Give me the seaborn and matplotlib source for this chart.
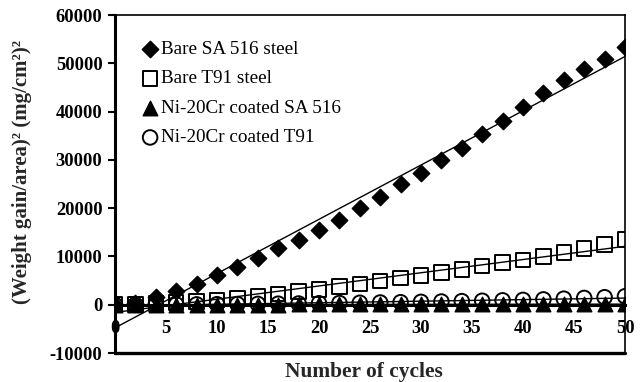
import numpy as np
import pandas as pd
import matplotlib
matplotlib.use("Agg")
import matplotlib.pyplot as plt
import seaborn as sns

cycles = list(range(0, 51, 2))
bare_sa516 = [0, 300, 1500, 2800, 4300, 6200, 7900, 9700, 11800, 13500, 15500, 17600,
              20000, 22400, 24900, 27300, 30000, 32500, 35300, 38000, 41000, 43900,
              46500, 48800, 50900, 53400]
bare_t91 = [0, 100, 250, 450, 700, 950, 1300, 1700, 2200, 2700, 3200, 3800, 4300,
            4900, 5500, 6100, 6700, 7300, 8000, 8700, 9300, 10000, 10800, 11600,
            12500, 13500]
coated_sa516 = [0, 5, 10, 15, 20, 25, 30, 35, 40, 45, 50, 55, 60, 65, 70, 75, 80,
                85, 90, 95, 100, 105, 110, 115, 120, 125]
coated_t91 = [0, 10, 25, 45, 70, 100, 130, 170, 210, 250, 300, 350, 400, 460, 520,
              590, 660, 740, 820, 910, 1000, 1100, 1250, 1400, 1550, 1750]

labels = ["Bare SA 516 steel", "Bare T91 steel", "Ni-20Cr coated SA 516", "Ni-20Cr coated T91"]
y_ticks = [-10000, 0, 10000, 20000, 30000, 40000, 50000, 60000]
x_ticks = [0, 5, 10, 15, 20, 25, 30, 35, 40, 45, 50]

sns.set_style("white")
plt.rcParams["font.family"] = ["Liberation Serif", "DejaVu Serif"]

fig = plt.figure(figsize=(6.43, 3.82), dpi=100)
ax = fig.add_axes([115 / 643, 1 - 353 / 382, 510 / 643, 338 / 382])

series = [bare_sa516, bare_t91, coated_sa516, coated_t91]
styles = [
    dict(marker="D", s=70, facecolor="black", edgecolor="black", linewidth=1.0),
    dict(marker="s", s=110, facecolor="none", edgecolor="black", linewidth=1.4),
    dict(marker="^", s=110, facecolor="black", edgecolor="black", linewidth=1.0),
    dict(marker="o", s=110, facecolor="none", edgecolor="black", linewidth=1.4),
]

for vals, lab, st in zip(series, labels, styles):
    df = pd.DataFrame({"cycles": cycles, "val": vals})
    sns.scatterplot(data=df, x="cycles", y="val", ax=ax, label=lab, zorder=3, **st)

for vals in series:
    df = pd.DataFrame({"cycles": cycles, "val": vals})
    sns.regplot(data=df, x="cycles", y="val", ax=ax, scatter=False, ci=None,
                color="black", line_kws=dict(linewidth=1.0, zorder=4))

ax.spines["bottom"].set_position(("data", 0))
ax.spines["bottom"].set_linewidth(2.2)
ax.spines["left"].set_linewidth(2.2)
ax.spines["top"].set_linewidth(1.2)
ax.spines["right"].set_linewidth(1.2)
for sp in ax.spines.values():
    sp.set_color("black")
    sp.set_visible(True)
ax.axhline(-10000, color="black", linewidth=2.4, clip_on=False, zorder=5)

ax.set_xlabel("")
ax.set_ylabel("")
ax.set_xlim(0, 50)
ax.set_ylim(-10000, 60000)
ax.set_yticks(y_ticks)
ax.set_xticks(x_ticks)
ax.set_yticklabels([str(v) for v in y_ticks], fontsize=13.3, fontweight="bold")
ax.set_xticklabels([str(v) for v in x_ticks], fontsize=13.3, fontweight="bold")

ax.tick_params(axis="y", which="major", direction="out", length=5, width=1.5,
               left=True, pad=4, colors="black")
ax.tick_params(axis="x", which="major", length=0, pad=11, colors="black")

fig.text(364 / 643, 1 - 372 / 382, "Number of cycles", ha="center", va="center",
         fontsize=15.4, fontweight="bold")
fig.text(22 / 643, 1 - 172 / 382, "(Weight gain/area)² (mg/cm²)²", ha="center",
         va="center", rotation=90, fontsize=15, fontweight="bold")

leg = ax.legend(loc="upper left", bbox_to_anchor=(0.035, 0.947), frameon=False,
                fontsize=13.8, labelspacing=0.63, handletextpad=0.05,
                handlelength=1.0, borderaxespad=0)
for t in leg.get_texts():
    t.set_color("black")

fig.savefig("out.png", dpi=100)
